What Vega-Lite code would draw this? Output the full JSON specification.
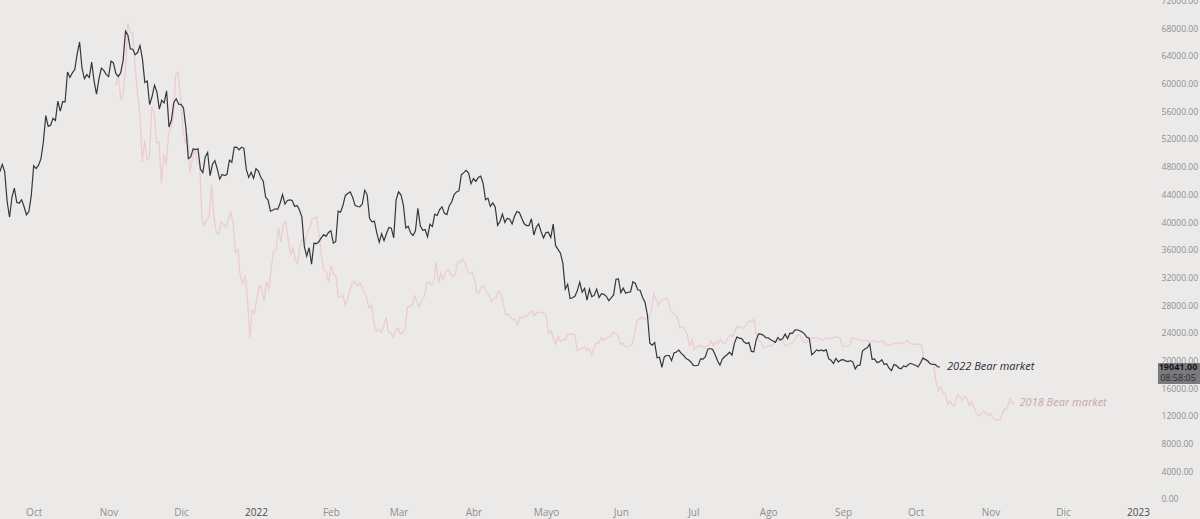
{
"$schema": "https://vega.github.io/schema/vega-lite/v6.json",
"width": 1150,
"height": 503,
"autosize": {"type": "none"},
"padding": {"left": 0, "top": 0, "right": 50, "bottom": 16},
"background": "#ECEAE9",
"config": {"view": {"stroke": null}, "font": "Open Sans"},
"datasets": {
"bear2022": [
{"date":"2021-09-17","close":47260},{"date":"2021-09-18","close":48330},{"date":"2021-09-19","close":47260},{"date":"2021-09-20","close":43000},{"date":"2021-09-21","close":40690},{"date":"2021-09-22","close":43570},{"date":"2021-09-23","close":44900},{"date":"2021-09-24","close":42840},{"date":"2021-09-25","close":42720},{"date":"2021-09-26","close":43210},{"date":"2021-09-27","close":42240},{"date":"2021-09-28","close":41030},{"date":"2021-09-29","close":41520},{"date":"2021-09-30","close":43790},
{"date":"2021-10-01","close":48120},{"date":"2021-10-02","close":47710},{"date":"2021-10-03","close":48200},{"date":"2021-10-04","close":49110},{"date":"2021-10-05","close":51510},{"date":"2021-10-06","close":55360},{"date":"2021-10-07","close":53810},{"date":"2021-10-08","close":53970},{"date":"2021-10-09","close":54970},{"date":"2021-10-10","close":54660},{"date":"2021-10-11","close":57470},{"date":"2021-10-12","close":56010},{"date":"2021-10-13","close":57370},{"date":"2021-10-14","close":57350},{"date":"2021-10-15","close":61670},{"date":"2021-10-16","close":60880},{"date":"2021-10-17","close":61530},{"date":"2021-10-18","close":62010},{"date":"2021-10-19","close":64280},{"date":"2021-10-20","close":66000},{"date":"2021-10-21","close":62210},{"date":"2021-10-22","close":60690},{"date":"2021-10-23","close":61290},{"date":"2021-10-24","close":60860},{"date":"2021-10-25","close":63080},{"date":"2021-10-26","close":60330},{"date":"2021-10-27","close":58460},{"date":"2021-10-28","close":60620},{"date":"2021-10-29","close":62230},{"date":"2021-10-30","close":61890},{"date":"2021-10-31","close":61320},
{"date":"2021-11-01","close":61000},{"date":"2021-11-02","close":63230},{"date":"2021-11-03","close":62970},{"date":"2021-11-04","close":61450},{"date":"2021-11-05","close":61010},{"date":"2021-11-06","close":61530},{"date":"2021-11-07","close":63300},{"date":"2021-11-08","close":67570},{"date":"2021-11-09","close":66970},{"date":"2021-11-10","close":64990},{"date":"2021-11-11","close":64950},{"date":"2021-11-12","close":64160},{"date":"2021-11-13","close":64470},{"date":"2021-11-14","close":65470},{"date":"2021-11-15","close":63560},{"date":"2021-11-16","close":60160},{"date":"2021-11-17","close":60370},{"date":"2021-11-18","close":56940},{"date":"2021-11-19","close":58120},{"date":"2021-11-20","close":59760},{"date":"2021-11-21","close":58760},{"date":"2021-11-22","close":56290},{"date":"2021-11-23","close":57570},{"date":"2021-11-24","close":57180},{"date":"2021-11-25","close":58950},{"date":"2021-11-26","close":53730},{"date":"2021-11-27","close":54720},{"date":"2021-11-28","close":57270},{"date":"2021-11-29","close":57810},{"date":"2021-11-30","close":57000},
{"date":"2021-12-01","close":56990},{"date":"2021-12-02","close":56480},{"date":"2021-12-03","close":53600},{"date":"2021-12-04","close":49150},{"date":"2021-12-05","close":49400},{"date":"2021-12-06","close":50580},{"date":"2021-12-07","close":50470},{"date":"2021-12-08","close":50570},{"date":"2021-12-09","close":47640},{"date":"2021-12-10","close":47140},{"date":"2021-12-11","close":49390},{"date":"2021-12-12","close":50050},{"date":"2021-12-13","close":46700},{"date":"2021-12-14","close":48340},{"date":"2021-12-15","close":48860},{"date":"2021-12-16","close":47640},{"date":"2021-12-17","close":46200},{"date":"2021-12-18","close":46850},{"date":"2021-12-19","close":46710},{"date":"2021-12-20","close":46880},{"date":"2021-12-21","close":48940},{"date":"2021-12-22","close":48630},{"date":"2021-12-23","close":50780},{"date":"2021-12-24","close":50820},{"date":"2021-12-25","close":50430},{"date":"2021-12-26","close":50810},{"date":"2021-12-27","close":50640},{"date":"2021-12-28","close":47590},{"date":"2021-12-29","close":46440},{"date":"2021-12-30","close":47180},{"date":"2021-12-31","close":46310},
{"date":"2022-01-01","close":47690},{"date":"2022-01-02","close":47340},{"date":"2022-01-03","close":46460},{"date":"2022-01-04","close":45900},{"date":"2022-01-05","close":43570},{"date":"2022-01-06","close":43160},{"date":"2022-01-07","close":41560},{"date":"2022-01-08","close":41730},{"date":"2022-01-09","close":41910},{"date":"2022-01-10","close":41820},{"date":"2022-01-11","close":42740},{"date":"2022-01-12","close":43950},{"date":"2022-01-13","close":42590},{"date":"2022-01-14","close":43100},{"date":"2022-01-15","close":43180},{"date":"2022-01-16","close":43110},{"date":"2022-01-17","close":42250},{"date":"2022-01-18","close":42380},{"date":"2022-01-19","close":41740},{"date":"2022-01-20","close":40700},{"date":"2022-01-21","close":36460},{"date":"2022-01-22","close":35070},{"date":"2022-01-23","close":36280},{"date":"2022-01-24","close":33900},{"date":"2022-01-25","close":36950},{"date":"2022-01-26","close":36850},{"date":"2022-01-27","close":37140},{"date":"2022-01-28","close":37710},{"date":"2022-01-29","close":38170},{"date":"2022-01-30","close":37920},{"date":"2022-01-31","close":38480},
{"date":"2022-02-01","close":38740},{"date":"2022-02-02","close":36950},{"date":"2022-02-03","close":37150},{"date":"2022-02-04","close":41570},{"date":"2022-02-05","close":41410},{"date":"2022-02-06","close":42410},{"date":"2022-02-07","close":43840},{"date":"2022-02-08","close":44120},{"date":"2022-02-09","close":44340},{"date":"2022-02-10","close":43570},{"date":"2022-02-11","close":42410},{"date":"2022-02-12","close":42240},{"date":"2022-02-13","close":42200},{"date":"2022-02-14","close":42590},{"date":"2022-02-15","close":44580},{"date":"2022-02-16","close":43960},{"date":"2022-02-17","close":40540},{"date":"2022-02-18","close":40030},{"date":"2022-02-19","close":40120},{"date":"2022-02-20","close":38430},{"date":"2022-02-21","close":37070},{"date":"2022-02-22","close":38290},{"date":"2022-02-23","close":37300},{"date":"2022-02-24","close":38330},{"date":"2022-02-25","close":39210},{"date":"2022-02-26","close":39110},{"date":"2022-02-27","close":37710},{"date":"2022-02-28","close":43190},
{"date":"2022-03-01","close":44350},{"date":"2022-03-02","close":43920},{"date":"2022-03-03","close":42450},{"date":"2022-03-04","close":39150},{"date":"2022-03-05","close":39400},{"date":"2022-03-06","close":38420},{"date":"2022-03-07","close":38060},{"date":"2022-03-08","close":38740},{"date":"2022-03-09","close":41980},{"date":"2022-03-10","close":39440},{"date":"2022-03-11","close":38790},{"date":"2022-03-12","close":38900},{"date":"2022-03-13","close":37850},{"date":"2022-03-14","close":39670},{"date":"2022-03-15","close":39340},{"date":"2022-03-16","close":41140},{"date":"2022-03-17","close":40950},{"date":"2022-03-18","close":41800},{"date":"2022-03-19","close":42190},{"date":"2022-03-20","close":41250},{"date":"2022-03-21","close":41080},{"date":"2022-03-22","close":42360},{"date":"2022-03-23","close":42890},{"date":"2022-03-24","close":43960},{"date":"2022-03-25","close":44350},{"date":"2022-03-26","close":44500},{"date":"2022-03-27","close":46820},{"date":"2022-03-28","close":47130},{"date":"2022-03-29","close":47470},{"date":"2022-03-30","close":47060},{"date":"2022-03-31","close":45540},
{"date":"2022-04-01","close":46280},{"date":"2022-04-02","close":45860},{"date":"2022-04-03","close":46450},{"date":"2022-04-04","close":46620},{"date":"2022-04-05","close":45560},{"date":"2022-04-06","close":43210},{"date":"2022-04-07","close":43450},{"date":"2022-04-08","close":42250},{"date":"2022-04-09","close":42750},{"date":"2022-04-10","close":42160},{"date":"2022-04-11","close":39530},{"date":"2022-04-12","close":40070},{"date":"2022-04-13","close":41150},{"date":"2022-04-14","close":39940},{"date":"2022-04-15","close":40550},{"date":"2022-04-16","close":40410},{"date":"2022-04-17","close":39720},{"date":"2022-04-18","close":40830},{"date":"2022-04-19","close":41500},{"date":"2022-04-20","close":41370},{"date":"2022-04-21","close":40530},{"date":"2022-04-22","close":39740},{"date":"2022-04-23","close":39480},{"date":"2022-04-24","close":39470},{"date":"2022-04-25","close":40460},{"date":"2022-04-26","close":38120},{"date":"2022-04-27","close":39240},{"date":"2022-04-28","close":39740},{"date":"2022-04-29","close":38600},{"date":"2022-04-30","close":37710},
{"date":"2022-05-01","close":38470},{"date":"2022-05-02","close":38530},{"date":"2022-05-03","close":37750},{"date":"2022-05-04","close":39700},{"date":"2022-05-05","close":36580},{"date":"2022-05-06","close":36040},{"date":"2022-05-07","close":35500},{"date":"2022-05-08","close":34060},{"date":"2022-05-09","close":30300},{"date":"2022-05-10","close":31020},{"date":"2022-05-11","close":28940},{"date":"2022-05-12","close":29050},{"date":"2022-05-13","close":29280},{"date":"2022-05-14","close":30100},{"date":"2022-05-15","close":31310},{"date":"2022-05-16","close":29860},{"date":"2022-05-17","close":30430},{"date":"2022-05-18","close":28720},{"date":"2022-05-19","close":30310},{"date":"2022-05-20","close":29200},{"date":"2022-05-21","close":29430},{"date":"2022-05-22","close":30320},{"date":"2022-05-23","close":29100},{"date":"2022-05-24","close":29650},{"date":"2022-05-25","close":29560},{"date":"2022-05-26","close":29270},{"date":"2022-05-27","close":28630},{"date":"2022-05-28","close":29030},{"date":"2022-05-29","close":29470},{"date":"2022-05-30","close":31730},{"date":"2022-05-31","close":31790},
{"date":"2022-06-01","close":29800},{"date":"2022-06-02","close":30450},{"date":"2022-06-03","close":29700},{"date":"2022-06-04","close":29860},{"date":"2022-06-05","close":29910},{"date":"2022-06-06","close":31370},{"date":"2022-06-07","close":31130},{"date":"2022-06-08","close":30200},{"date":"2022-06-09","close":30110},{"date":"2022-06-10","close":29090},{"date":"2022-06-11","close":28420},{"date":"2022-06-12","close":26570},{"date":"2022-06-13","close":22490},{"date":"2022-06-14","close":22210},{"date":"2022-06-15","close":22580},{"date":"2022-06-16","close":20380},{"date":"2022-06-17","close":20470},{"date":"2022-06-18","close":19020},{"date":"2022-06-19","close":20550},{"date":"2022-06-20","close":20720},{"date":"2022-06-21","close":20720},{"date":"2022-06-22","close":19970},{"date":"2022-06-23","close":21090},{"date":"2022-06-24","close":21230},{"date":"2022-06-25","close":21500},{"date":"2022-06-26","close":21030},{"date":"2022-06-27","close":20730},{"date":"2022-06-28","close":20280},{"date":"2022-06-29","close":20100},{"date":"2022-06-30","close":19780},
{"date":"2022-07-01","close":19300},{"date":"2022-07-02","close":19240},{"date":"2022-07-03","close":19300},{"date":"2022-07-04","close":20230},{"date":"2022-07-05","close":20190},{"date":"2022-07-06","close":20550},{"date":"2022-07-07","close":21640},{"date":"2022-07-08","close":21730},{"date":"2022-07-09","close":21600},{"date":"2022-07-10","close":20860},{"date":"2022-07-11","close":19970},{"date":"2022-07-12","close":19330},{"date":"2022-07-13","close":20210},{"date":"2022-07-14","close":20570},{"date":"2022-07-15","close":20830},{"date":"2022-07-16","close":21190},{"date":"2022-07-17","close":20780},{"date":"2022-07-18","close":22470},{"date":"2022-07-19","close":23390},{"date":"2022-07-20","close":23230},{"date":"2022-07-21","close":23160},{"date":"2022-07-22","close":22680},{"date":"2022-07-23","close":22450},{"date":"2022-07-24","close":22580},{"date":"2022-07-25","close":21310},{"date":"2022-07-26","close":21250},{"date":"2022-07-27","close":22950},{"date":"2022-07-28","close":23840},{"date":"2022-07-29","close":23800},{"date":"2022-07-30","close":23640},{"date":"2022-07-31","close":23300},
{"date":"2022-08-01","close":23270},{"date":"2022-08-02","close":22990},{"date":"2022-08-03","close":22820},{"date":"2022-08-04","close":22620},{"date":"2022-08-05","close":23310},{"date":"2022-08-06","close":22950},{"date":"2022-08-07","close":23170},{"date":"2022-08-08","close":23810},{"date":"2022-08-09","close":23160},{"date":"2022-08-10","close":23950},{"date":"2022-08-11","close":23930},{"date":"2022-08-12","close":24400},{"date":"2022-08-13","close":24440},{"date":"2022-08-14","close":24300},{"date":"2022-08-15","close":24100},{"date":"2022-08-16","close":23850},{"date":"2022-08-17","close":23340},{"date":"2022-08-18","close":23210},{"date":"2022-08-19","close":20830},{"date":"2022-08-20","close":21140},{"date":"2022-08-21","close":21520},{"date":"2022-08-22","close":21400},{"date":"2022-08-23","close":21530},{"date":"2022-08-24","close":21370},{"date":"2022-08-25","close":21570},{"date":"2022-08-26","close":20260},{"date":"2022-08-27","close":20040},{"date":"2022-08-28","close":19550},{"date":"2022-08-29","close":20290},{"date":"2022-08-30","close":19800},{"date":"2022-08-31","close":20050},
{"date":"2022-09-01","close":20130},{"date":"2022-09-02","close":19950},{"date":"2022-09-03","close":19830},{"date":"2022-09-04","close":19990},{"date":"2022-09-05","close":19800},{"date":"2022-09-06","close":18790},{"date":"2022-09-07","close":19290},{"date":"2022-09-08","close":19320},{"date":"2022-09-09","close":21370},{"date":"2022-09-10","close":21650},{"date":"2022-09-11","close":21830},{"date":"2022-09-12","close":22400},{"date":"2022-09-13","close":20170},{"date":"2022-09-14","close":20230},{"date":"2022-09-15","close":19700},{"date":"2022-09-16","close":19800},{"date":"2022-09-17","close":20110},{"date":"2022-09-18","close":19420},{"date":"2022-09-19","close":19540},{"date":"2022-09-20","close":18880},{"date":"2022-09-21","close":18540},{"date":"2022-09-22","close":19410},{"date":"2022-09-23","close":19300},{"date":"2022-09-24","close":18930},{"date":"2022-09-25","close":18800},{"date":"2022-09-26","close":19220},{"date":"2022-09-27","close":19080},{"date":"2022-09-28","close":19410},{"date":"2022-09-29","close":19590},{"date":"2022-09-30","close":19420},
{"date":"2022-10-01","close":19310},{"date":"2022-10-02","close":19060},{"date":"2022-10-03","close":19630},{"date":"2022-10-04","close":20340},{"date":"2022-10-05","close":20160},{"date":"2022-10-06","close":19960},{"date":"2022-10-07","close":19530},{"date":"2022-10-08","close":19420},{"date":"2022-10-09","close":19440},{"date":"2022-10-10","close":19130},{"date":"2022-10-11","close":19041}
],
"bear2018": [
{"date":"2017-12-11","close":16937},{"date":"2017-12-12","close":17415},{"date":"2017-12-13","close":16408},{"date":"2017-12-14","close":16565},{"date":"2017-12-15","close":17706},{"date":"2017-12-16","close":19497},{"date":"2017-12-17","close":19140},{"date":"2017-12-18","close":19114},{"date":"2017-12-19","close":17777},{"date":"2017-12-20","close":16625},{"date":"2017-12-21","close":15802},{"date":"2017-12-22","close":13831},{"date":"2017-12-23","close":14700},{"date":"2017-12-24","close":13926},{"date":"2017-12-25","close":14027},{"date":"2017-12-26","close":16099},{"date":"2017-12-27","close":15838},{"date":"2017-12-28","close":14607},{"date":"2017-12-29","close":14656},{"date":"2017-12-30","close":12952},{"date":"2017-12-31","close":14156},
{"date":"2018-01-01","close":13657},{"date":"2018-01-02","close":14982},{"date":"2018-01-03","close":15201},{"date":"2018-01-04","close":15599},{"date":"2018-01-05","close":17429},{"date":"2018-01-06","close":17527},{"date":"2018-01-07","close":16477},{"date":"2018-01-08","close":15170},{"date":"2018-01-09","close":14595},{"date":"2018-01-10","close":14973},{"date":"2018-01-11","close":13405},{"date":"2018-01-12","close":13980},{"date":"2018-01-13","close":14360},{"date":"2018-01-14","close":13772},{"date":"2018-01-15","close":13819},{"date":"2018-01-16","close":11490},{"date":"2018-01-17","close":11188},{"date":"2018-01-18","close":11474},{"date":"2018-01-19","close":11607},{"date":"2018-01-20","close":12899},{"date":"2018-01-21","close":11600},{"date":"2018-01-22","close":10931},{"date":"2018-01-23","close":10868},{"date":"2018-01-24","close":11359},{"date":"2018-01-25","close":11259},{"date":"2018-01-26","close":11171},{"date":"2018-01-27","close":11441},{"date":"2018-01-28","close":11787},{"date":"2018-01-29","close":11296},{"date":"2018-01-30","close":10107},{"date":"2018-01-31","close":10221},
{"date":"2018-02-01","close":9171},{"date":"2018-02-02","close":8831},{"date":"2018-02-03","close":9175},{"date":"2018-02-04","close":8278},{"date":"2018-02-05","close":6600},{"date":"2018-02-06","close":7754},{"date":"2018-02-07","close":7622},{"date":"2018-02-08","close":8265},{"date":"2018-02-09","close":8737},{"date":"2018-02-10","close":8621},{"date":"2018-02-11","close":8129},{"date":"2018-02-12","close":8926},{"date":"2018-02-13","close":8599},{"date":"2018-02-14","close":9494},{"date":"2018-02-15","close":10166},{"date":"2018-02-16","close":10233},{"date":"2018-02-17","close":11112},{"date":"2018-02-18","close":10551},{"date":"2018-02-19","close":11225},{"date":"2018-02-20","close":11404},{"date":"2018-02-21","close":10690},{"date":"2018-02-22","close":10005},{"date":"2018-02-23","close":10301},{"date":"2018-02-24","close":9813},{"date":"2018-02-25","close":9664},{"date":"2018-02-26","close":10366},{"date":"2018-02-27","close":10725},{"date":"2018-02-28","close":10397},
{"date":"2018-03-01","close":10951},{"date":"2018-03-02","close":11086},{"date":"2018-03-03","close":11489},{"date":"2018-03-04","close":11512},{"date":"2018-03-05","close":11573},{"date":"2018-03-06","close":10780},{"date":"2018-03-07","close":9965},{"date":"2018-03-08","close":9395},{"date":"2018-03-09","close":9337},{"date":"2018-03-10","close":8866},{"date":"2018-03-11","close":9578},{"date":"2018-03-12","close":9205},{"date":"2018-03-13","close":9194},{"date":"2018-03-14","close":8269},{"date":"2018-03-15","close":8300},{"date":"2018-03-16","close":8338},{"date":"2018-03-17","close":7916},{"date":"2018-03-18","close":8223},{"date":"2018-03-19","close":8630},{"date":"2018-03-20","close":8913},{"date":"2018-03-21","close":8929},{"date":"2018-03-22","close":8728},{"date":"2018-03-23","close":8879},{"date":"2018-03-24","close":8669},{"date":"2018-03-25","close":8495},{"date":"2018-03-26","close":8209},{"date":"2018-03-27","close":7834},{"date":"2018-03-28","close":7954},{"date":"2018-03-29","close":7165},{"date":"2018-03-30","close":6890},{"date":"2018-03-31","close":6973},
{"date":"2018-04-01","close":6845},{"date":"2018-04-02","close":7083},{"date":"2018-04-03","close":7457},{"date":"2018-04-04","close":6854},{"date":"2018-04-05","close":6811},{"date":"2018-04-06","close":6637},{"date":"2018-04-07","close":6911},{"date":"2018-04-08","close":7023},{"date":"2018-04-09","close":6771},{"date":"2018-04-10","close":6834},{"date":"2018-04-11","close":6968},{"date":"2018-04-12","close":7889},{"date":"2018-04-13","close":7895},{"date":"2018-04-14","close":7987},{"date":"2018-04-15","close":8330},{"date":"2018-04-16","close":8058},{"date":"2018-04-17","close":7903},{"date":"2018-04-18","close":8163},{"date":"2018-04-19","close":8294},{"date":"2018-04-20","close":8845},{"date":"2018-04-21","close":8895},{"date":"2018-04-22","close":8802},{"date":"2018-04-23","close":8931},{"date":"2018-04-24","close":9697},{"date":"2018-04-25","close":8845},{"date":"2018-04-26","close":9282},{"date":"2018-04-27","close":8988},{"date":"2018-04-28","close":9348},{"date":"2018-04-29","close":9419},{"date":"2018-04-30","close":9240},
{"date":"2018-05-01","close":9119},{"date":"2018-05-02","close":9235},{"date":"2018-05-03","close":9744},{"date":"2018-05-04","close":9700},{"date":"2018-05-05","close":9858},{"date":"2018-05-06","close":9654},{"date":"2018-05-07","close":9374},{"date":"2018-05-08","close":9235},{"date":"2018-05-09","close":9325},{"date":"2018-05-10","close":9043},{"date":"2018-05-11","close":8442},{"date":"2018-05-12","close":8504},{"date":"2018-05-13","close":8723},{"date":"2018-05-14","close":8716},{"date":"2018-05-15","close":8510},{"date":"2018-05-16","close":8368},{"date":"2018-05-17","close":8094},{"date":"2018-05-18","close":8250},{"date":"2018-05-19","close":8248},{"date":"2018-05-20","close":8514},{"date":"2018-05-21","close":8418},{"date":"2018-05-22","close":8042},{"date":"2018-05-23","close":7557},{"date":"2018-05-24","close":7587},{"date":"2018-05-25","close":7480},{"date":"2018-05-26","close":7355},{"date":"2018-05-27","close":7368},{"date":"2018-05-28","close":7135},{"date":"2018-05-29","close":7472},{"date":"2018-05-30","close":7407},{"date":"2018-05-31","close":7494},
{"date":"2018-06-01","close":7541},{"date":"2018-06-02","close":7643},{"date":"2018-06-03","close":7720},{"date":"2018-06-04","close":7514},{"date":"2018-06-05","close":7633},{"date":"2018-06-06","close":7653},{"date":"2018-06-07","close":7678},{"date":"2018-06-08","close":7625},{"date":"2018-06-09","close":7531},{"date":"2018-06-10","close":6786},{"date":"2018-06-11","close":6906},{"date":"2018-06-12","close":6582},{"date":"2018-06-13","close":6349},{"date":"2018-06-14","close":6675},{"date":"2018-06-15","close":6456},{"date":"2018-06-16","close":6550},{"date":"2018-06-17","close":6499},{"date":"2018-06-18","close":6734},{"date":"2018-06-19","close":6769},{"date":"2018-06-20","close":6776},{"date":"2018-06-21","close":6729},{"date":"2018-06-22","close":6083},{"date":"2018-06-23","close":6162},{"date":"2018-06-24","close":6174},{"date":"2018-06-25","close":6249},{"date":"2018-06-26","close":6093},{"date":"2018-06-27","close":6158},{"date":"2018-06-28","close":5903},{"date":"2018-06-29","close":6218},{"date":"2018-06-30","close":6404},
{"date":"2018-07-01","close":6385},{"date":"2018-07-02","close":6614},{"date":"2018-07-03","close":6529},{"date":"2018-07-04","close":6597},{"date":"2018-07-05","close":6639},{"date":"2018-07-06","close":6673},{"date":"2018-07-07","close":6857},{"date":"2018-07-08","close":6773},{"date":"2018-07-09","close":6741},{"date":"2018-07-10","close":6329},{"date":"2018-07-11","close":6394},{"date":"2018-07-12","close":6228},{"date":"2018-07-13","close":6239},{"date":"2018-07-14","close":6276},{"date":"2018-07-15","close":6359},{"date":"2018-07-16","close":6742},{"date":"2018-07-17","close":7321},{"date":"2018-07-18","close":7370},{"date":"2018-07-19","close":7466},{"date":"2018-07-20","close":7354},{"date":"2018-07-21","close":7419},{"date":"2018-07-22","close":7418},{"date":"2018-07-23","close":7711},{"date":"2018-07-24","close":8424},{"date":"2018-07-25","close":8181},{"date":"2018-07-26","close":7951},{"date":"2018-07-27","close":8166},{"date":"2018-07-28","close":8193},{"date":"2018-07-29","close":8219},{"date":"2018-07-30","close":8180},{"date":"2018-07-31","close":7780},
{"date":"2018-08-01","close":7625},{"date":"2018-08-02","close":7568},{"date":"2018-08-03","close":7434},{"date":"2018-08-04","close":7032},{"date":"2018-08-05","close":7068},{"date":"2018-08-06","close":6951},{"date":"2018-08-07","close":6753},{"date":"2018-08-08","close":6306},{"date":"2018-08-09","close":6529},{"date":"2018-08-10","close":6144},{"date":"2018-08-11","close":6232},{"date":"2018-08-12","close":6310},{"date":"2018-08-13","close":6275},{"date":"2018-08-14","close":6184},{"date":"2018-08-15","close":6267},{"date":"2018-08-16","close":6308},{"date":"2018-08-17","close":6486},{"date":"2018-08-18","close":6301},{"date":"2018-08-19","close":6487},{"date":"2018-08-20","close":6376},{"date":"2018-08-21","close":6534},{"date":"2018-08-22","close":6404},{"date":"2018-08-23","close":6385},{"date":"2018-08-24","close":6614},{"date":"2018-08-25","close":6720},{"date":"2018-08-26","close":6665},{"date":"2018-08-27","close":6908},{"date":"2018-08-28","close":7091},{"date":"2018-08-29","close":7052},{"date":"2018-08-30","close":6998},{"date":"2018-08-31","close":7026},
{"date":"2018-09-01","close":7202},{"date":"2018-09-02","close":7301},{"date":"2018-09-03","close":7271},{"date":"2018-09-04","close":7370},{"date":"2018-09-05","close":6705},{"date":"2018-09-06","close":6516},{"date":"2018-09-07","close":6412},{"date":"2018-09-08","close":6201},{"date":"2018-09-09","close":6251},{"date":"2018-09-10","close":6283},{"date":"2018-09-11","close":6285},{"date":"2018-09-12","close":6324},{"date":"2018-09-13","close":6488},{"date":"2018-09-14","close":6487},{"date":"2018-09-15","close":6519},{"date":"2018-09-16","close":6502},{"date":"2018-09-17","close":6270},{"date":"2018-09-18","close":6329},{"date":"2018-09-19","close":6371},{"date":"2018-09-20","close":6398},{"date":"2018-09-21","close":6519},{"date":"2018-09-22","close":6734},{"date":"2018-09-23","close":6722},{"date":"2018-09-24","close":6589},{"date":"2018-09-25","close":6413},{"date":"2018-09-26","close":6434},{"date":"2018-09-27","close":6544},{"date":"2018-09-28","close":6593},{"date":"2018-09-29","close":6604},{"date":"2018-09-30","close":6626},
{"date":"2018-10-01","close":6590},{"date":"2018-10-02","close":6546},{"date":"2018-10-03","close":6508},{"date":"2018-10-04","close":6591},{"date":"2018-10-05","close":6602},{"date":"2018-10-06","close":6572},{"date":"2018-10-07","close":6602},{"date":"2018-10-08","close":6653},{"date":"2018-10-09","close":6640},{"date":"2018-10-10","close":6595},{"date":"2018-10-11","close":6262},{"date":"2018-10-12","close":6275},{"date":"2018-10-13","close":6275},{"date":"2018-10-14","close":6300},{"date":"2018-10-15","close":6624},{"date":"2018-10-16","close":6585},{"date":"2018-10-17","close":6573},{"date":"2018-10-18","close":6517},{"date":"2018-10-19","close":6490},{"date":"2018-10-20","close":6487},{"date":"2018-10-21","close":6504},{"date":"2018-10-22","close":6475},{"date":"2018-10-23","close":6464},{"date":"2018-10-24","close":6491},{"date":"2018-10-25","close":6461},{"date":"2018-10-26","close":6449},{"date":"2018-10-27","close":6469},{"date":"2018-10-28","close":6481},{"date":"2018-10-29","close":6334},{"date":"2018-10-30","close":6305},{"date":"2018-10-31","close":6318},
{"date":"2018-11-01","close":6377},{"date":"2018-11-02","close":6388},{"date":"2018-11-03","close":6361},{"date":"2018-11-04","close":6419},{"date":"2018-11-05","close":6379},{"date":"2018-11-06","close":6419},{"date":"2018-11-07","close":6519},{"date":"2018-11-08","close":6412},{"date":"2018-11-09","close":6342},{"date":"2018-11-10","close":6360},{"date":"2018-11-11","close":6359},{"date":"2018-11-12","close":6347},{"date":"2018-11-13","close":6337},{"date":"2018-11-14","close":5739},{"date":"2018-11-15","close":5649},{"date":"2018-11-16","close":5575},{"date":"2018-11-17","close":5554},{"date":"2018-11-18","close":5624},{"date":"2018-11-19","close":4871},{"date":"2018-11-20","close":4452},{"date":"2018-11-21","close":4602},{"date":"2018-11-22","close":4366},{"date":"2018-11-23","close":4309},{"date":"2018-11-24","close":3881},{"date":"2018-11-25","close":4010},{"date":"2018-11-26","close":3822},{"date":"2018-11-27","close":3862},{"date":"2018-11-28","close":4270},{"date":"2018-11-29","close":4217},{"date":"2018-11-30","close":4017},
{"date":"2018-12-01","close":4215},{"date":"2018-12-02","close":4140},{"date":"2018-12-03","close":3838},{"date":"2018-12-04","close":3981},{"date":"2018-12-05","close":3774},{"date":"2018-12-06","close":3513},{"date":"2018-12-07","close":3420},{"date":"2018-12-08","close":3482},{"date":"2018-12-09","close":3619},{"date":"2018-12-10","close":3502},{"date":"2018-12-11","close":3425},{"date":"2018-12-12","close":3501},{"date":"2018-12-13","close":3297},{"date":"2018-12-14","close":3253},{"date":"2018-12-15","close":3237},{"date":"2018-12-16","close":3253},{"date":"2018-12-17","close":3545},{"date":"2018-12-18","close":3697},{"date":"2018-12-19","close":3746},{"date":"2018-12-20","close":4134},{"date":"2018-12-21","close":3896},{"date":"2018-12-22","close":4014}
]
},
"layer": [
{
"data": {"name": "bear2018"},
"mark": {"type": "line", "color": "#EDCCD0", "strokeWidth": 1.3},
"encoding": {
"x": {"field": "date", "type": "temporal", "scale": {"type": "utc", "domain": [{"year": 2017, "month": 10, "date": 23, "hours": 11, "minutes": 30, "utc": true}, {"year": 2019, "month": 2, "date": 16, "hours": 15, "minutes": 36, "utc": true}]}, "axis": null},
"y": {"field": "close", "type": "quantitative", "scale": {"domain": [-164.8, 20471.6], "nice": false, "zero": false}, "axis": null}
}
},
{
"layer": [
{
"data": {"name": "bear2022"},
"mark": {"type": "line", "color": "#34363E", "strokeWidth": 1.2},
"encoding": {
"x": {"field": "date", "type": "temporal",
"scale": {"type": "utc", "domain": [{"year": 2021, "month": 9, "date": 17, "hours": 1, "minutes": 26, "utc": true}, {"year": 2023, "month": 1, "date": 6, "utc": true}]},
"axis": {"orient": "bottom", "title": null, "domain": false, "ticks": false, "grid": false, "tickCount": {"interval": "month", "step": 1}, "labelFlush": false, "labelOverlap": false, "labelFont": "Open Sans", "labelFontSize": 10, "labelPadding": 4,
"labelColor": {"condition": {"test": "utcmonth(datum.value) == 0", "value": "#4A4A4A"}, "value": "#8E8E8E"},
"labelExpr": "utcmonth(datum.value) == 0 ? utcFormat(datum.value, '%Y') : ['Ene','Feb','Mar','Abr','Mayo','Jun','Jul','Ago','Sep','Oct','Nov','Dic'][utcmonth(datum.value)]"}},
"y": {"field": "close", "type": "quantitative",
"scale": {"domain": [-580, 72060], "nice": false, "zero": false},
"axis": {"orient": "right", "title": null, "domain": false, "ticks": false, "grid": false, "tickCount": 40, "values": [0,4000,8000,12000,16000,20000,24000,28000,32000,36000,40000,44000,48000,52000,56000,60000,64000,68000,72000], "format": ".2f", "labelAlign": "left", "labelPadding": 11, "labelFlush": false, "labelOverlap": false, "labelFont": "Open Sans", "labelFontSize": 8.6, "labelColor": "#8E8E8E"}}
}
},
{
"data": {"values": [{}]},
"mark": {"type": "rect", "color": "#7A7A7D"},
"encoding": {
"x": {"datum": {"year": 2023, "month": 1, "date": 9, "hours": 7, "utc": true}, "type": "temporal"},
"x2": {"datum": {"year": 2023, "month": 1, "date": 26, "hours": 17, "utc": true}},
"y": {"datum": 19640, "type": "quantitative"},
"y2": {"datum": 16610}
}
},
{
"data": {"values": [{}]},
"mark": {"type": "text", "align": "center", "baseline": "middle", "font": "Open Sans", "fontSize": 9, "fontWeight": "bold", "color": "#151515"},
"encoding": {
"x": {"datum": {"year": 2023, "month": 1, "date": 17, "hours": 14, "utc": true}, "type": "temporal"},
"y": {"datum": 19041, "type": "quantitative"},
"text": {"value": "19041.00"}
}
},
{
"data": {"values": [{}]},
"mark": {"type": "text", "align": "center", "baseline": "middle", "font": "Open Sans", "fontSize": 9, "color": "#2A2A2A"},
"encoding": {
"x": {"datum": {"year": 2023, "month": 1, "date": 17, "hours": 14, "utc": true}, "type": "temporal"},
"y": {"datum": 17470, "type": "quantitative"},
"text": {"value": "08:58:05"}
}
},
{
"data": {"values": [{}]},
"mark": {"type": "text", "align": "left", "baseline": "middle", "font": "Open Sans", "fontSize": 11, "fontStyle": "italic", "color": "#2A2C33"},
"encoding": {
"x": {"datum": {"year": 2022, "month": 10, "date": 14, "utc": true}, "type": "temporal"},
"y": {"datum": 19041, "type": "quantitative"},
"text": {"value": "2022 Bear market"}
}
},
{
"data": {"values": [{}]},
"mark": {"type": "text", "align": "left", "baseline": "middle", "font": "Open Sans", "fontSize": 11, "fontStyle": "italic", "color": "#C9A6AC"},
"encoding": {
"x": {"datum": {"year": 2022, "month": 11, "date": 13, "utc": true}, "type": "temporal"},
"y": {"datum": 13860, "type": "quantitative"},
"text": {"value": "2018 Bear market"}
}
}
]
}
],
"resolve": {"scale": {"x": "independent", "y": "independent"}}
}
